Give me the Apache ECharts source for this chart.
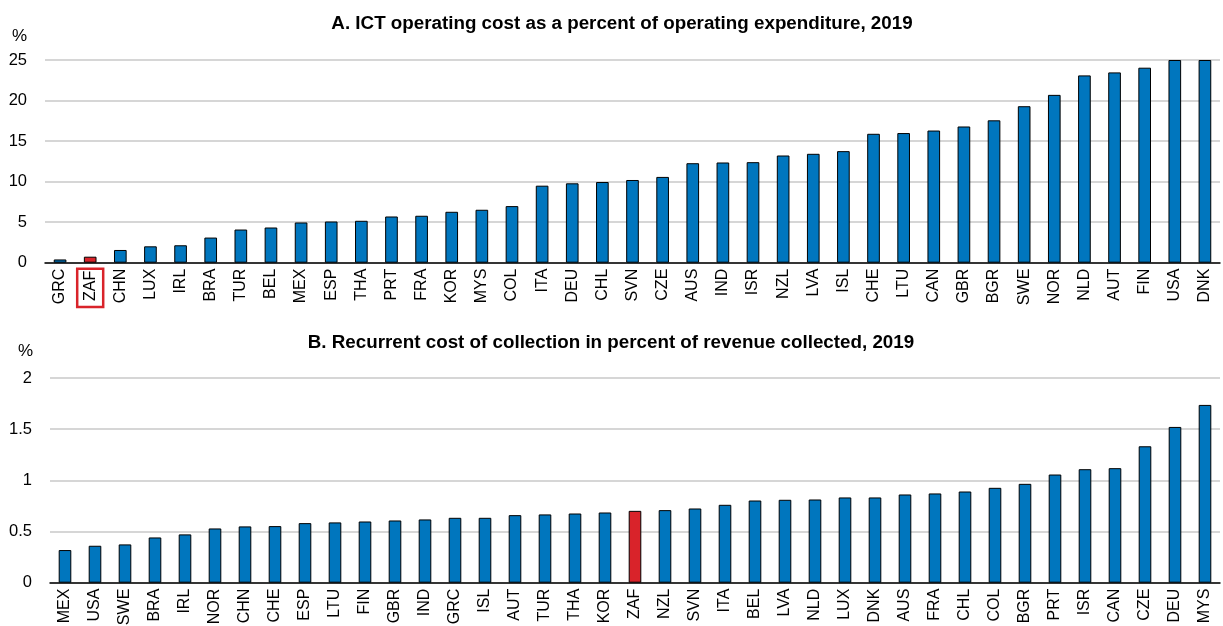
<!DOCTYPE html>
<html><head><meta charset="utf-8">
<script src="https://cdn.jsdelivr.net/npm/echarts@6/dist/echarts.min.js"></script>
<style>html,body{margin:0;padding:0;background:#fff}#c{width:1223px;height:626px}</style>
</head><body><div id="c"></div>
<script>
var titleA = 'A. ICT operating cost as a percent of operating expenditure, 2019';
var titleB = 'B. Recurrent cost of collection in percent of revenue collected, 2019';
var catsA = ['GRC','ZAF','CHN','LUX','IRL','BRA','TUR','BEL','MEX','ESP','THA','PRT','FRA','KOR','MYS','COL','ITA','DEU','CHL','SVN','CZE','AUS','IND','ISR','NZL','LVA','ISL','CHE','LTU','CAN','GBR','BGR','SWE','NOR','NLD','AUT','FIN','USA','DNK'];
var valsA = [0.4,0.74,1.57,2.02,2.15,3.1,4.09,4.34,4.96,5.08,5.17,5.7,5.79,6.28,6.53,6.98,9.5,9.79,9.95,10.2,10.58,12.27,12.36,12.4,13.22,13.43,13.76,15.9,15.99,16.3,16.8,17.56,19.3,20.7,23.1,23.47,24.05,25,25];
var catsB = ['MEX','USA','SWE','BRA','IRL','NOR','CHN','CHE','ESP','LTU','FIN','GBR','IND','GRC','ISL','AUT','TUR','THA','KOR','ZAF','NZL','SVN','ITA','BEL','LVA','NLD','LUX','DNK','AUS','FRA','CHL','COL','BGR','PRT','ISR','CAN','CZE','DEU','MYS'];
var valsB = [0.319,0.361,0.374,0.442,0.472,0.53,0.55,0.553,0.582,0.589,0.598,0.608,0.618,0.634,0.634,0.66,0.667,0.676,0.686,0.702,0.709,0.725,0.761,0.803,0.81,0.813,0.833,0.833,0.862,0.872,0.891,0.927,0.966,1.057,1.109,1.119,1.333,1.522,1.737];
var highlight = 'ZAF';

var BLUE = '#0076be', RED = '#d9232a';
var FONT = 'Liberation Sans';

function barData(cats, vals) {
  return vals.map(function (v, i) {
    return { value: v, itemStyle: { color: cats[i] === highlight ? RED : BLUE } };
  });
}

function xAxis(gridIndex, cats, boxed) {
  return {
    type: 'category', gridIndex: gridIndex, data: cats,
    axisLine: { lineStyle: { color: '#000', width: 1.5 } },
    axisTick: { inside: true, length: 6, lineStyle: { color: '#000', width: 1.5 } },
    axisLabel: {
      rotate: 90, interval: 0, color: '#000', fontFamily: FONT, fontSize: 16, margin: 6,
      formatter: function (v) { return (boxed && v === highlight) ? '{box|' + v + '}' : v; },
      rich: { box: { borderColor: RED, borderWidth: 2.5, padding: [5, 2, 5, 6], fontSize: 16, fontFamily: FONT, color: '#000' } }
    }
  };
}

function yAxis(gridIndex, max, interval) {
  return {
    type: 'value', gridIndex: gridIndex, min: 0, max: max, interval: interval,
    axisLine: { show: false }, axisTick: { show: false },
    splitLine: { lineStyle: { color: '#c8c8c8', width: 1.5 } },
    axisLabel: { color: '#000', fontFamily: FONT, fontSize: 16.5, margin: 18 }
  };
}

var chart = echarts.init(document.getElementById('c'), null, { renderer: 'canvas' });
chart.setOption({
  animation: false,
  backgroundColor: '#fff',
  title: [
    { text: titleA, left: 617, top: 9, textAlign: 'center', textStyle: { fontFamily: FONT, fontSize: 18.8, fontWeight: 'bold', color: '#000' } },
    { text: titleB, left: 606, top: 328, textAlign: 'center', textStyle: { fontFamily: FONT, fontSize: 18.8, fontWeight: 'bold', color: '#000' } }
  ],
  graphic: [
    { type: 'text', left: 12, top: 28, style: { text: '%', fontFamily: FONT, fontSize: 17, fill: '#000' } },
    { type: 'text', left: 18, top: 343, style: { text: '%', fontFamily: FONT, fontSize: 17, fill: '#000' } }
  ],
  grid: [
    { left: 45, right: 3, top: 60, height: 202.7, outerBoundsMode: 'none', containLabel: false },
    { left: 50, right: 3, top: 378, height: 204.7, outerBoundsMode: 'none', containLabel: false }
  ],
  xAxis: [xAxis(0, catsA, true), xAxis(1, catsB, false)],
  yAxis: [yAxis(0, 25, 5), yAxis(1, 2, 0.5)],
  series: [
    { type: 'bar', xAxisIndex: 0, yAxisIndex: 0, data: barData(catsA, valsA), barWidth: '42%',
      itemStyle: { borderColor: '#000', borderWidth: 1 } },
    { type: 'bar', xAxisIndex: 1, yAxisIndex: 1, data: barData(catsB, valsB), barWidth: '42%',
      itemStyle: { borderColor: '#000', borderWidth: 1 } }
  ]
});
</script></body></html>
